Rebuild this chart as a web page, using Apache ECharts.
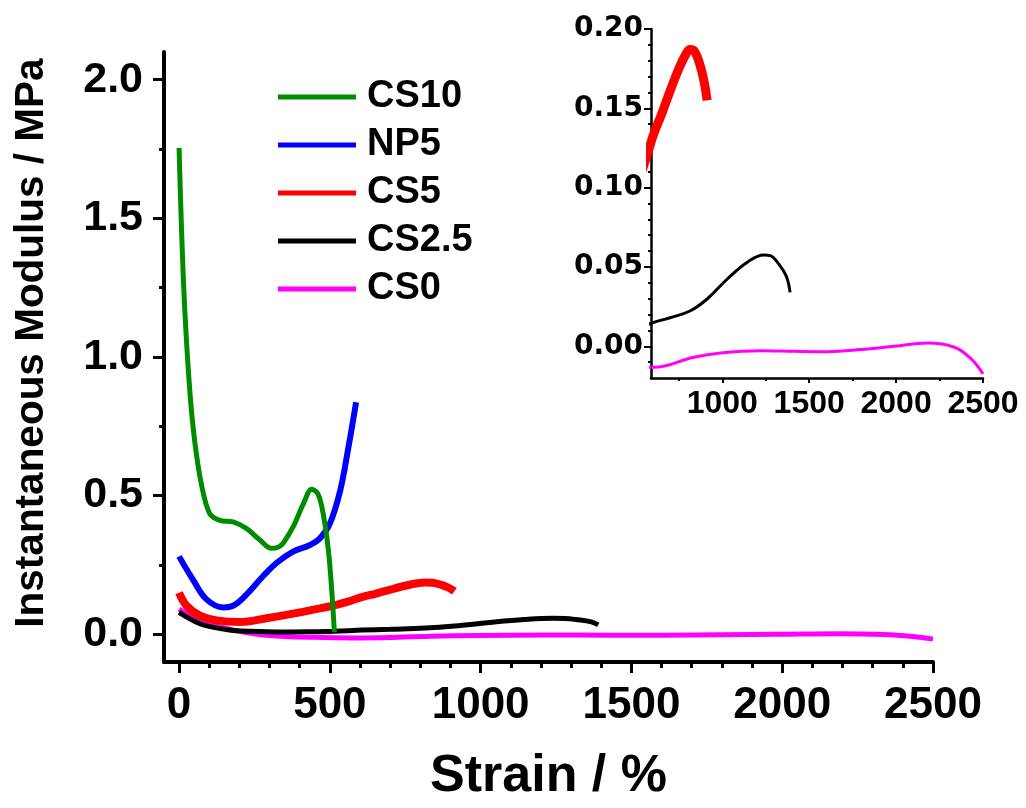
<!DOCTYPE html>
<html>
<head>
<meta charset="utf-8">
<title>Instantaneous Modulus vs Strain</title>
<script src="https://cdn.jsdelivr.net/npm/echarts@6/dist/echarts.min.js"></script>
<style>
  html, body { margin: 0; padding: 0; background: #ffffff; }
  #chart { width: 1026px; height: 808px; }
</style>
</head>
<body>
<div id="chart"></div>
<script>
// ---- data: strain (%) and instantaneous modulus (MPa) per sample ----
const cs10Strain  = [0, 8, 19, 36, 52, 74, 102, 135, 179, 224, 268, 307, 330, 345, 378, 412, 440, 461, 478, 495, 506, 515];
const cs10Modulus = [1.754, 1.464, 1.168, 0.872, 0.695, 0.541, 0.434, 0.411, 0.405, 0.381, 0.340, 0.310, 0.315, 0.328, 0.387, 0.470, 0.523, 0.505, 0.434, 0.304, 0.162, 0.008];

const np5Strain  = [0, 46, 91, 146, 179, 224, 279, 323, 378, 434, 467, 500, 534, 561, 587];
const np5Modulus = [0.281, 0.197, 0.126, 0.097, 0.103, 0.144, 0.210, 0.257, 0.298, 0.322, 0.346, 0.399, 0.517, 0.671, 0.837];

const cs5Strain  = [0, 25, 69, 124, 201, 290, 401, 511, 560, 606, 650, 700, 750, 790, 815, 840, 870, 895, 913];
const cs5Modulus = [0.150, 0.103, 0.067, 0.050, 0.044, 0.058, 0.079, 0.103, 0.118, 0.134, 0.146, 0.161, 0.175, 0.184, 0.187, 0.186, 0.178, 0.167, 0.155];

const cs25Strain  = [0, 69, 120, 179, 260, 345, 430, 511, 606, 700, 817, 913, 1029, 1144, 1240, 1280, 1317, 1367, 1390];
const cs25Modulus = [0.079, 0.038, 0.024, 0.014, 0.010, 0.008, 0.009, 0.011, 0.0151, 0.0180, 0.0224, 0.0298, 0.0424, 0.0530, 0.0576, 0.0570, 0.0530, 0.0445, 0.034];

const cs0Strain  = [0, 40, 100, 180, 260, 350, 450, 606, 836, 990, 1221, 1420, 1605, 1798, 1990, 2182, 2336, 2432, 2500];
const cs0Modulus = [0.091, 0.065, 0.038, 0.015, 0.000, -0.008, -0.011, -0.0133, -0.0069, -0.0042, -0.0028, -0.0032, -0.0034, -0.0021, 0.0, 0.0021, -0.0006, -0.008, -0.0175];

// ---- tick values ----
const mainStrainTicks  = [0, 500, 1000, 1500, 2000, 2500];
const mainStrainMinor  = [100, 200, 300, 400, 600, 700, 800, 900, 1100, 1200, 1300, 1400, 1600, 1700, 1800, 1900, 2100, 2200, 2300, 2400];
const mainModulusTicks = [0, 0.5, 1.0, 1.5, 2.0];
const mainModulusMinor = [0.25, 0.75, 1.25, 1.75];
const insetStrainTicks  = [1000, 1500, 2000, 2500];
const insetStrainMinor  = [750, 1250, 1750, 2250];
const insetModulusTicks = [0, 0.05, 0.10, 0.15, 0.20];
const insetModulusMinor = [-0.01, 0.01, 0.02, 0.03, 0.04, 0.06, 0.07, 0.08, 0.09, 0.11, 0.12, 0.13, 0.14, 0.16, 0.17, 0.18, 0.19];

const seriesNames = ['CS10', 'NP5', 'CS5', 'CS2.5', 'CS0'];
const colors = { 'CS10': '#008c00', 'NP5': '#0000ff', 'CS5': '#ff0000', 'CS2.5': '#000000', 'CS0': '#ff00ff' };

const zip = (xs, ys) => xs.map((x, i) => [x, ys[i]]);

const FONT = "'Liberation Sans', Arial, Helvetica, sans-serif";

function majorAxis(opts) {
  return Object.assign({
    type: 'value',
    splitLine: { show: false }
  }, opts);
}
function minorAxis(opts) {
  return Object.assign({
    type: 'value',
    axisLine: { show: false, onZero: false },
    splitLine: { show: false },
    axisLabel: { show: false }
  }, opts);
}

const chart = echarts.init(document.getElementById('chart'), null, { renderer: 'canvas' });

const option = {
  backgroundColor: '#ffffff',
  animation: false,
  grid: [
    { left: 164, right: 93, top: 52, bottom: 137 },
    { left: 651, right: 43, top: 29, bottom: 430 }
  ],
  legend: {
    data: seriesNames,
    orient: 'vertical',
    left: 278,
    top: 77,
    padding: 0,
    icon: 'rect',
    itemWidth: 78,
    itemHeight: 5,
    itemGap: 8,
    textStyle: { fontFamily: FONT, fontWeight: 'bold', fontSize: 38, color: '#000', lineHeight: 40, padding: [0, 0, 0, 6] }
  },
  xAxis: [
    majorAxis({
      gridIndex: 0, min: -50, max: 2500, position: 'bottom',
      name: 'Strain / %', nameLocation: 'middle', nameGap: 89,
      nameTextStyle: { fontFamily: FONT, fontWeight: 'bold', fontSize: 52, color: '#000' },
      axisLine: { show: true, onZero: false, lineStyle: { color: '#000', width: 4 } },
      axisTick: { show: true, length: 11, customValues: mainStrainTicks, lineStyle: { color: '#000', width: 3 } },
      axisLabel: { customValues: mainStrainTicks, fontSize: 44, margin: 22, color: '#000', fontFamily: FONT, fontWeight: 'bold',
        formatter: v => String(v) }
    }),
    minorAxis({ gridIndex: 0, min: -50, max: 2500, position: 'bottom', offset: 0,
      axisTick: { show: true, length: 6, customValues: mainStrainMinor, lineStyle: { color: '#000', width: 3 } } }),
    majorAxis({
      gridIndex: 1, min: 590, max: 2500, position: 'bottom',
      axisLine: { show: true, onZero: false, lineStyle: { color: '#000', width: 2.5 } },
      axisTick: { show: true, length: 5, customValues: insetStrainTicks, lineStyle: { color: '#000', width: 2 } },
      axisLabel: { customValues: insetStrainTicks, fontSize: 32, margin: 10, color: '#000', fontFamily: FONT, fontWeight: 'bold',
        formatter: v => String(v) }
    }),
    minorAxis({ gridIndex: 1, min: 590, max: 2500, position: 'bottom', offset: 0,
      axisTick: { show: true, length: 3, customValues: insetStrainMinor, lineStyle: { color: '#000', width: 2 } } })
  ],
  yAxis: [
    majorAxis({
      gridIndex: 0, min: -0.1, max: 2.1, position: 'left',
      name: 'Instantaneous Modulus / MPa', nameLocation: 'middle', nameGap: 112, nameRotate: 90,
      nameTextStyle: { fontFamily: FONT, fontWeight: 'bold', fontSize: 40.5, color: '#000', padding: [0, 0, 0, 28] },
      axisLine: { show: true, onZero: false, lineStyle: { color: '#000', width: 4 } },
      axisTick: { show: true, length: 11, customValues: mainModulusTicks, lineStyle: { color: '#000', width: 3 } },
      axisLabel: { customValues: mainModulusTicks, fontSize: 43, margin: 21, color: '#000', fontFamily: FONT, fontWeight: 'bold',
        formatter: v => v.toFixed(1) }
    }),
    minorAxis({ gridIndex: 0, min: -0.1, max: 2.1, position: 'left', offset: 0,
      axisTick: { show: true, length: 5, customValues: mainModulusMinor, lineStyle: { color: '#000', width: 3 } } }),
    majorAxis({
      gridIndex: 1, min: -0.02, max: 0.20, position: 'left',
      axisLine: { show: true, onZero: false, lineStyle: { color: '#000', width: 2.5 } },
      axisTick: { show: true, length: 7, customValues: insetModulusTicks, lineStyle: { color: '#000', width: 2 } },
      axisLabel: { customValues: insetModulusTicks, fontSize: 28, margin: 8, color: '#000',
        fontFamily: "'DejaVu Sans', sans-serif", fontWeight: 'bold', formatter: v => v.toFixed(2) }
    }),
    minorAxis({ gridIndex: 1, min: -0.02, max: 0.20, position: 'left', offset: 0,
      axisTick: { show: true, length: 3, customValues: insetModulusMinor, lineStyle: { color: '#000', width: 2 } } })
  ],
  series: [
    // main panel (drawn bottom to top)
    { name: 'CS0', type: 'line', xAxisIndex: 0, yAxisIndex: 0, data: zip(cs0Strain, cs0Modulus),
      showSymbol: false, symbol: 'none', smooth: 0.4, lineStyle: { color: colors['CS0'], width: 5 }, itemStyle: { color: colors['CS0'] } },
    { name: 'CS2.5', type: 'line', xAxisIndex: 0, yAxisIndex: 0, data: zip(cs25Strain, cs25Modulus),
      showSymbol: false, symbol: 'none', smooth: 0.4, lineStyle: { color: colors['CS2.5'], width: 5 }, itemStyle: { color: colors['CS2.5'] } },
    { name: 'CS5', type: 'line', xAxisIndex: 0, yAxisIndex: 0, data: zip(cs5Strain, cs5Modulus),
      showSymbol: false, symbol: 'none', smooth: 0.4, lineStyle: { color: colors['CS5'], width: 8 }, itemStyle: { color: colors['CS5'] } },
    { name: 'NP5', type: 'line', xAxisIndex: 0, yAxisIndex: 0, data: zip(np5Strain, np5Modulus),
      showSymbol: false, symbol: 'none', smooth: 0.4, lineStyle: { color: colors['NP5'], width: 6 }, itemStyle: { color: colors['NP5'] } },
    { name: 'CS10', type: 'line', xAxisIndex: 0, yAxisIndex: 0, data: zip(cs10Strain, cs10Modulus),
      showSymbol: false, symbol: 'none', smooth: 0.35, lineStyle: { color: colors['CS10'], width: 5 }, itemStyle: { color: colors['CS10'] } },
    // inset panel: low-modulus samples at high strain
    { name: 'CS0', type: 'line', xAxisIndex: 2, yAxisIndex: 2, data: zip(cs0Strain, cs0Modulus),
      showSymbol: false, symbol: 'none', smooth: 0.4, lineStyle: { color: colors['CS0'], width: 3 } },
    { name: 'CS2.5', type: 'line', xAxisIndex: 2, yAxisIndex: 2, data: zip(cs25Strain, cs25Modulus),
      showSymbol: false, symbol: 'none', smooth: 0.4, lineStyle: { color: colors['CS2.5'], width: 3 } },
    { name: 'CS5', type: 'line', xAxisIndex: 2, yAxisIndex: 2, data: zip(cs5Strain, cs5Modulus),
      showSymbol: false, symbol: 'none', smooth: 0.4, lineStyle: { color: colors['CS5'], width: 9 } }
  ]
};

chart.setOption(option);
</script>
</body>
</html>
